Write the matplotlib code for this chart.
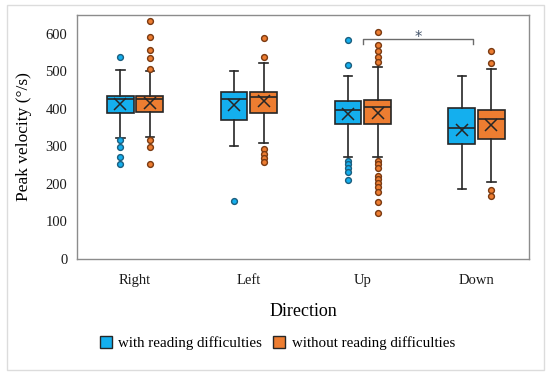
import matplotlib
matplotlib.use("Agg")
import matplotlib.pyplot as plt
from matplotlib.patches import Patch, Rectangle

plt.rcParams['font.family'] = ['Liberation Serif', 'DejaVu Serif']

categories = ["Right", "Left", "Up", "Down"]
series_names = ["with reading difficulties", "without reading difficulties"]

# five-number summaries
with_q1 = [388, 371, 359, 306]
with_med = [425, 425, 398, 348]
with_q3 = [435, 446, 422, 401]
with_mean = [413, 409, 385, 344]
with_lo = [322, 302, 272, 187]
with_hi = [503, 501, 488, 488]
with_fliers = [
    [539, 317, 299, 272, 252],
    [154],
    [584, 516, 261, 252, 242, 231, 210],
    [],
]

without_q1 = [391, 390, 360, 320]
without_med = [425, 431, 406, 373]
without_q3 = [435, 445, 424, 398]
without_mean = [415, 420, 390, 358]
without_lo = [325, 309, 271, 204]
without_hi = [502, 521, 512, 505]
without_fliers = [
    [634, 592, 556, 535, 505, 316, 298, 253],
    [588, 537, 292, 280, 268, 259],
    [604, 569, 553, 538, 525, 261, 252, 243, 222, 213, 203, 191, 178, 153, 122],
    [553, 523, 183, 169],
]

yticks = [0, 100, 200, 300, 400, 500, 600]
sig_pair = (3.0, 3.97)
sig_y = 585

colors = ["#14AFEE", "#ED7D31"]
flier_edges = ["#1B5E7E", "#7A3A12"]
edge = "#262626"

fig = plt.figure(figsize=(5.5, 3.8), dpi=100)
fig.patch.set_facecolor("white")
fig.add_artist(Rectangle((7 / 550, 1 - 370 / 380), 537 / 550, 365 / 380,
                         transform=fig.transFigure, facecolor="none",
                         edgecolor="#dcdcdc", lw=1.0))
ax = fig.add_axes([77 / 550, 1 - 259 / 380, 452 / 550, 244 / 380])

def stats(q1, med, q3, mean, lo, hi, fl):
    return [dict(q1=a, med=b, q3=c, mean=d, whislo=e, whishi=f, fliers=g)
            for a, b, c, d, e, f, g in zip(q1, med, q3, mean, lo, hi, fl)]

all_stats = [
    stats(with_q1, with_med, with_q3, with_mean, with_lo, with_hi, with_fliers),
    stats(without_q1, without_med, without_q3, without_mean, without_lo, without_hi, without_fliers),
]
offsets = [-0.13, 0.13]
width = 0.235
for s, off, c, fe in zip(all_stats, offsets, colors, flier_edges):
    pos = [i + 1 + off for i in range(len(categories))]
    ax.bxp(s, positions=pos, widths=width, patch_artist=True, showmeans=True,
           boxprops=dict(facecolor=c, edgecolor=edge, lw=1.2),
           medianprops=dict(color=edge, lw=1.2),
           whiskerprops=dict(color=edge, lw=1.2),
           capprops=dict(color=edge, lw=1.2),
           capwidths=0.075,
           meanprops=dict(marker="x", markeredgecolor=edge, markersize=8.5,
                          markeredgewidth=1.1),
           flierprops=dict(marker="o", markerfacecolor=c, markeredgecolor=fe,
                           markersize=4.2, markeredgewidth=1.0))

# significance bracket
ax.plot([sig_pair[0], sig_pair[0], sig_pair[1], sig_pair[1]],
        [sig_y - 12, sig_y, sig_y, sig_y - 12], color="#6b6b6b", lw=1.0)
ax.text(sum(sig_pair) / 2, sig_y - 8, "*", ha="center", va="baseline",
        fontsize=10.5, color="#44546A", family=["DejaVu Sans"])

ax.set_xlim(0.49, 4.46)
ax.set_ylim(0, 650)
ax.set_xticks(range(1, len(categories) + 1))
ax.set_xticklabels(categories)
ax.set_yticks(yticks)
ax.tick_params(axis="both", length=0, labelsize=10.5, colors="#1a1a1a")
ax.tick_params(axis="y", pad=7)
ax.tick_params(axis="x", pad=10.5)
for sp in ax.spines.values():
    sp.set_color("#8c8c8c")
    sp.set_linewidth(1.0)

ax.set_ylabel("Peak velocity (°/s)", fontsize=12.5, labelpad=10)
ax.set_xlabel("Direction", fontsize=13, labelpad=12)

handles = [Patch(facecolor=c, edgecolor=edge, lw=1.0) for c in colors]
fig.legend(handles, series_names, loc="center", bbox_to_anchor=(277.5 / 550, 1 - 343 / 380),
           ncol=2, frameon=False, fontsize=10.8, handlelength=0.8, handleheight=0.8,
           handletextpad=0.45, columnspacing=0.75, borderaxespad=0)

fig.savefig("out.png", dpi=100)
